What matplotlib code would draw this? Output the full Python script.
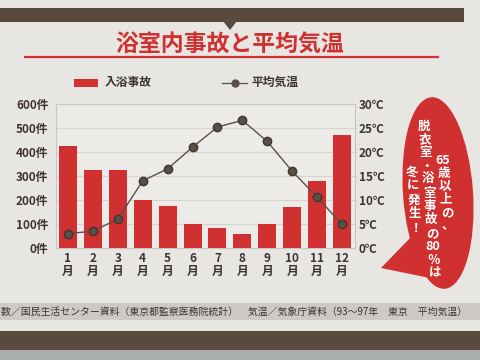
import matplotlib
matplotlib.use("Agg")
import matplotlib.pyplot as plt
from matplotlib.patches import Ellipse, Polygon, Rectangle

plt.rcParams["font.family"] = ["Noto Sans CJK JP", "DejaVu Sans"]

# data read from the poster
months = ["1\n月", "2\n月", "3\n月", "4\n月", "5\n月", "6\n月",
          "7\n月", "8\n月", "9\n月", "10\n月", "11\n月", "12\n月"]
accidents = [425, 325, 325, 200, 175, 100, 85, 60, 100, 170, 280, 470]
temperature = [3.0, 3.5, 6.0, 14.0, 16.5, 21.0, 25.2, 26.6, 22.2, 16.0, 10.6, 4.9]
count_ticks = [0, 100, 200, 300, 400, 500, 600]
count_labels = [f"{v}件" for v in count_ticks]
temp_ticks = [0, 5, 10, 15, 20, 25, 30]
temp_labels = [f"{v}℃" for v in temp_ticks]

title = "浴室内事故と平均気温"
bar_label = "入浴事故"
line_label = "平均気温"
source = "数／国民生活センター資料（東京都監察医務院統計）　気温／気象庁資料（93～97年　東京　平均気温）"
bubble_cols = [
    ["65", "歳", "以", "上", "の", "、"],
    ["脱", "衣", "室", "・", "浴", "室", "事", "故", "の", "80", "％", "は"],
    ["冬", "に", "発", "生", "！"],
]

RED = "#d0302f"
BROWN = "#5a4a3d"
DOT = "#5b5048"
TEXT = "#3c3432"
BG = "#e8e6e2"

W, H = 480, 360
fig = plt.figure(figsize=(4.8, 3.6), dpi=100)
fig.patch.set_facecolor(BG)

# decoration layer in pixel coordinates
deco = fig.add_axes([0, 0, 1, 1])
deco.set_xlim(0, W)
deco.set_ylim(H, 0)
deco.axis("off")

deco.add_patch(Rectangle((0, 8), 464, 14, color=BROWN, lw=0))
deco.add_patch(Polygon([(223, 21), (237, 21), (230, 30)], closed=True, color=BROWN, lw=0))
deco.text(230, 45, title, color=RED, fontsize=16.5, fontweight="bold", ha="center", va="center")
deco.plot([25, 438], [57, 57], color=RED, lw=1.6)

# legend
deco.add_patch(Rectangle((74, 79), 24, 7.5, color=RED, lw=0))
deco.text(105, 82.5, bar_label, color=TEXT, fontsize=8.5, fontweight="bold", va="center")
deco.plot([222, 247], [82.5, 82.5], color=DOT, lw=0.9)
deco.plot([235], [82.5], "o", color=DOT, ms=5)
deco.text(251, 82.5, line_label, color=TEXT, fontsize=8.5, fontweight="bold", va="center")

# source band and footer
deco.add_patch(Rectangle((0, 303), W, 17, color="#cdcac5", lw=0))
deco.text(1, 311.5, source, color=TEXT, fontsize=7.1, va="center", ha="left")
deco.add_patch(Rectangle((0, 331), W, 19, color=BROWN, lw=0))
deco.add_patch(Rectangle((0, 350), W, 10, color="#a9adac", lw=0))

# speech bubble
deco.add_patch(Polygon([(412, 236), (381, 268), (430, 278)], closed=True, color=RED, lw=0))
deco.add_patch(Ellipse((438, 193), 70, 192, angle=-4, color=RED, lw=0))
col_specs = [(443, 161, 448, 12.8), (424, 126, 435, 13.4), (412, 172, 416, 14.0)]
for tokens, (x0, y0, x1, step) in zip(bubble_cols, col_specs):
    n = len(tokens)
    for i, tok in enumerate(tokens):
        x = x0 + (x1 - x0) * i / max(n - 1, 1)
        deco.text(x, y0 + i * step, tok, color="white", fontsize=9, fontweight="bold",
                  ha="center", va="center")

# main chart
ax = fig.add_axes([55.5 / W, 1 - 248 / H, 299 / W, 144 / H])
ax.set_facecolor("#ecebe8")
x = range(len(months))
ax.bar(x, accidents, width=0.72, color=RED, zorder=2)
ax.set_xlim(-0.5, 11.5)
ax.set_ylim(0, 600)
ax.set_yticks(count_ticks)
ax.set_yticklabels(count_labels, fontsize=8.5, fontweight="bold", color=TEXT)
ax.set_xticks(list(x))
ax.set_xticklabels(months, fontsize=8.5, fontweight="bold", color=TEXT, linespacing=1.0)
ax.tick_params(length=0, pad=5)
ax.tick_params(axis="x", pad=3)
ax.grid(axis="y", color="#d6d4d0", lw=0.8, zorder=0)
for s in ax.spines.values():
    s.set_color("#c8c6c2")
    s.set_linewidth(0.8)

ax2 = ax.twinx()
ax2.plot(list(x), temperature, color=DOT, lw=1.0, marker="o", ms=6,
         markerfacecolor=DOT, markeredgecolor="#3f3630", zorder=3)
ax2.set_ylim(0, 30)
ax2.set_yticks(temp_ticks)
ax2.set_yticklabels(temp_labels, fontsize=8.5, fontweight="bold", color=TEXT)
ax2.tick_params(length=0, pad=3)
for s in ax2.spines.values():
    s.set_visible(False)

fig.savefig("out.png", dpi=100, facecolor=BG)
